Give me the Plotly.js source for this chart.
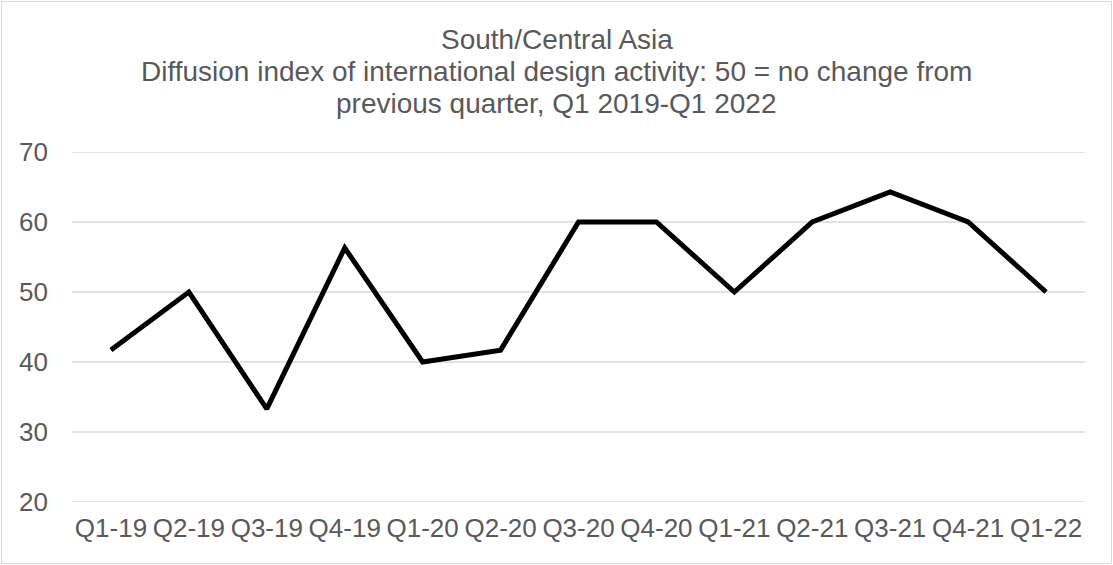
<!DOCTYPE html>
<html>
<head>
<meta charset="utf-8">
<script src="https://cdn.plot.ly/plotly-3.0.1.min.js"></script>
<style>
  html, body { margin: 0; padding: 0; background: #ffffff; }
  #wrap { position: relative; width: 1113px; height: 565px; }
  #chart { position: absolute; left: 0; top: 0; width: 1113px; height: 565px; }
  #frame { position: absolute; left: 1px; top: 1px; width: 1109px; height: 561px;
           border: 1px solid #d9d9d9; pointer-events: none; }
</style>
</head>
<body>
<div id="wrap">
  <div id="chart"></div>
  <div id="frame"></div>
</div>
<script>
const quarters = ["Q1-19","Q2-19","Q3-19","Q4-19","Q1-20","Q2-20","Q3-20","Q4-20","Q1-21","Q2-21","Q3-21","Q4-21","Q1-22"];
const diffusionIndex = [41.7, 50, 33.3, 56.3, 40, 41.7, 60, 60, 50, 60, 64.3, 60, 50];
const yTicks = [20, 30, 40, 50, 60, 70];
const titleLines = [
  "South/Central Asia",
  "Diffusion index of international design activity: 50 = no change from",
  "previous quarter, Q1 2019-Q1 2022"
];

const fontFam = "Liberation Sans, Arial, sans-serif";
const grey = "#595959";
const W = 1113, H = 565, mL = 72, mR = 28, mT = 152, mB = 63;
const plotW = W - mL - mR, plotH = H - mT - mB;

const annotations = titleLines.map((t, i) => ({
  text: t,
  xref: "paper", yref: "paper",
  x: (W / 2 - mL) / plotW, xanchor: "center",
  y: (H - mB - (40 + i * 31.5)) / plotH, yanchor: "middle",
  showarrow: false,
  font: { family: fontFam, size: 28, color: grey }
}));

const gridShapes = yTicks.map(v => ({
  type: "line", xref: "paper", yref: "y",
  x0: 0, x1: 1, y0: v, y1: v,
  line: { color: "#d9d9d9", width: 1.5 },
  layer: "below"
}));

Plotly.newPlot("chart", [{
  x: quarters,
  y: diffusionIndex,
  type: "scatter",
  mode: "lines",
  line: { color: "#000000", width: 5 },
  hoverinfo: "x+y"
}], {
  width: W, height: H,
  margin: { l: mL, r: mR, t: mT, b: mB, pad: 0 },
  paper_bgcolor: "#ffffff",
  plot_bgcolor: "#ffffff",
  showlegend: false,
  annotations: annotations,
  shapes: gridShapes,
  xaxis: {
    type: "category",
    range: [-0.5, 12.5],
    showgrid: false, zeroline: false, showline: false,
    ticks: "",
    tickfont: { family: fontFam, size: 26, color: grey },
    ticklabelstandoff: 8
  },
  yaxis: {
    range: [20, 70],
    tickvals: yTicks,
    ticktext: yTicks.map(String),
    showgrid: false,
    zeroline: false, showline: false,
    ticks: "",
    tickfont: { family: fontFam, size: 26, color: grey },
    ticklabelstandoff: 23
  }
}, { staticPlot: true });
</script>
</body>
</html>
